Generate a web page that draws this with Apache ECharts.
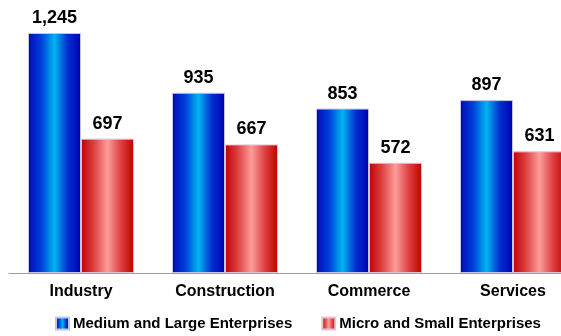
<!DOCTYPE html>
<html><head><meta charset="utf-8">
<script src="https://cdn.jsdelivr.net/npm/echarts@6/dist/echarts.min.js"></script>
<style>html,body{margin:0;padding:0;background:#fff;}#c{width:561px;height:336px;}</style>
</head><body><div id="c"></div>
<script>
const categories = ['Industry', 'Construction', 'Commerce', 'Services'];
const mediumLarge = [1245, 935, 853, 897];
const microSmall = [697, 667, 572, 631];
const seriesNames = ['Medium and Large Enterprises', 'Micro and Small Enterprises'];

const G = echarts.graphic.LinearGradient;
const blueGrad = new G(0, 0, 1, 0, [
  {offset: 0, color: '#0008b8'},
  {offset: 0.25, color: '#0040d8'},
  {offset: 0.5, color: '#00b4f0'},
  {offset: 0.75, color: '#0030d0'},
  {offset: 1, color: '#0000b0'}
]);
const redGrad = new G(0, 0, 1, 0, [
  {offset: 0, color: '#c00000'},
  {offset: 0.25, color: '#dd4444'},
  {offset: 0.5, color: '#ff9c9c'},
  {offset: 0.75, color: '#dd4040'},
  {offset: 1, color: '#c00000'}
]);
const labelStyle = {show: true, position: 'top', distance: 6, fontFamily: 'Liberation Sans', fontWeight: 'bold', fontSize: 18, color: '#000',
  formatter: p => p.value.toLocaleString('en-US')};

const chart = echarts.init(document.getElementById('c'), null, {renderer: 'canvas'});
chart.setOption({
  animation: false,
  grid: {left: 9, width: 576, top: 22.4, height: 250.6, containLabel: false, outerBoundsMode: 'none'},
  legend: {
    left: 55, top: 316, padding: 0, itemWidth: 13, itemHeight: 12, itemGap: 29,
    textStyle: {fontFamily: 'Liberation Sans', fontWeight: 'bold', fontSize: 15, color: '#000', padding: [0, 0, 0, -1]},
    data: seriesNames.map(n => ({name: n, icon: 'rect'}))
  },
  xAxis: {
    type: 'category', data: categories,
    axisLine: {lineStyle: {color: '#9a9aa8', width: 1}},
    axisTick: {show: false},
    axisLabel: {margin: 11, fontFamily: 'Liberation Sans', fontWeight: 'bold', fontSize: 16, color: '#000'}
  },
  yAxis: {type: 'value', min: 0, max: 1300, show: false, splitLine: {show: false}},
  series: [
    {name: seriesNames[0], type: 'bar', data: mediumLarge, barGap: '0%', barCategoryGap: '26.4%',
      itemStyle: {color: blueGrad, borderColor: '#c4c4e4', borderWidth: 1}, label: labelStyle},
    {name: seriesNames[1], type: 'bar', data: microSmall,
      itemStyle: {color: redGrad, borderColor: '#e4c4d4', borderWidth: 1}, label: labelStyle}
  ]
});
</script></body></html>
